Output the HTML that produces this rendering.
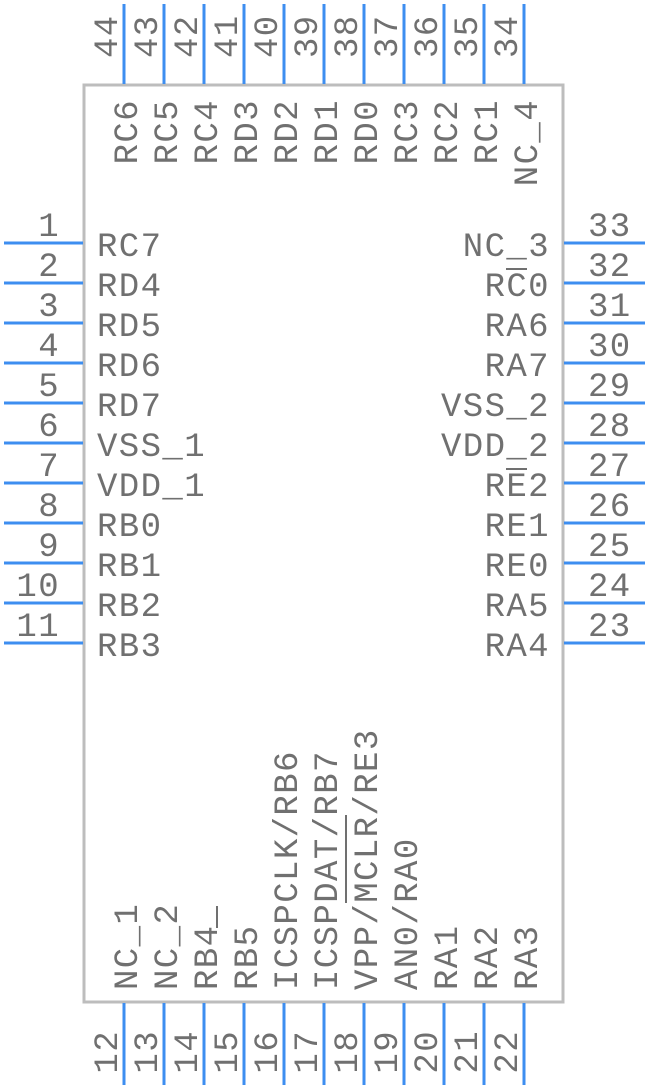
<!DOCTYPE html>
<html><head><meta charset="utf-8"><style>
html,body{margin:0;padding:0;background:#fff;}
svg{display:block}
text{font-family:"Liberation Mono",monospace;font-size:34px;fill:#707070;letter-spacing:1.4px;}
</style></head><body>
<svg width="648" height="1088" viewBox="0 0 648 1088">
<rect x="84" y="85" width="479" height="917" fill="none" stroke="#bdbdbd" stroke-width="3"/>
<g stroke="#3d8ef0" stroke-width="3">
<line x1="4" y1="243" x2="83" y2="243"/><line x1="4" y1="283" x2="83" y2="283"/><line x1="4" y1="323" x2="83" y2="323"/><line x1="4" y1="363" x2="83" y2="363"/><line x1="4" y1="403" x2="83" y2="403"/><line x1="4" y1="443" x2="83" y2="443"/><line x1="4" y1="483" x2="83" y2="483"/><line x1="4" y1="523" x2="83" y2="523"/><line x1="4" y1="563" x2="83" y2="563"/><line x1="4" y1="603" x2="83" y2="603"/><line x1="4" y1="643" x2="83" y2="643"/>
<line x1="564" y1="243" x2="645" y2="243"/><line x1="564" y1="283" x2="645" y2="283"/><line x1="564" y1="323" x2="645" y2="323"/><line x1="564" y1="363" x2="645" y2="363"/><line x1="564" y1="403" x2="645" y2="403"/><line x1="564" y1="443" x2="645" y2="443"/><line x1="564" y1="483" x2="645" y2="483"/><line x1="564" y1="523" x2="645" y2="523"/><line x1="564" y1="563" x2="645" y2="563"/><line x1="564" y1="603" x2="645" y2="603"/><line x1="564" y1="643" x2="645" y2="643"/>
<line x1="124" y1="4" x2="124" y2="84"/><line x1="164" y1="4" x2="164" y2="84"/><line x1="204" y1="4" x2="204" y2="84"/><line x1="244" y1="4" x2="244" y2="84"/><line x1="284" y1="4" x2="284" y2="84"/><line x1="324" y1="4" x2="324" y2="84"/><line x1="364" y1="4" x2="364" y2="84"/><line x1="404" y1="4" x2="404" y2="84"/><line x1="444" y1="4" x2="444" y2="84"/><line x1="484" y1="4" x2="484" y2="84"/><line x1="524" y1="4" x2="524" y2="84"/>
<line x1="124" y1="1003" x2="124" y2="1085"/><line x1="164" y1="1003" x2="164" y2="1085"/><line x1="204" y1="1003" x2="204" y2="1085"/><line x1="244" y1="1003" x2="244" y2="1085"/><line x1="284" y1="1003" x2="284" y2="1085"/><line x1="324" y1="1003" x2="324" y2="1085"/><line x1="364" y1="1003" x2="364" y2="1085"/><line x1="404" y1="1003" x2="404" y2="1085"/><line x1="444" y1="1003" x2="444" y2="1085"/><line x1="484" y1="1003" x2="484" y2="1085"/><line x1="524" y1="1003" x2="524" y2="1085"/>
</g>
<g text-anchor="end">
<text x="60" y="236">1</text><text x="60" y="276">2</text><text x="60" y="316">3</text><text x="60" y="356">4</text><text x="60" y="396">5</text><text x="60" y="436">6</text><text x="60" y="476">7</text><text x="60" y="516">8</text><text x="60" y="556">9</text><text x="60" y="596">10</text><text x="60" y="636">11</text>
</g>
<g>
<text x="97" y="256">RC7</text><text x="97" y="296">RD4</text><text x="97" y="336">RD5</text><text x="97" y="376">RD6</text><text x="97" y="416">RD7</text><text x="97" y="456">VSS_1</text><text x="97" y="496">VDD_1</text><text x="97" y="536">RB0</text><text x="97" y="576">RB1</text><text x="97" y="616">RB2</text><text x="97" y="656">RB3</text>
</g>
<g>
<text x="588" y="236">33</text><text x="588" y="276">32</text><text x="588" y="316">31</text><text x="588" y="356">30</text><text x="588" y="396">29</text><text x="588" y="436">28</text><text x="588" y="476">27</text><text x="588" y="516">26</text><text x="588" y="556">25</text><text x="588" y="596">24</text><text x="588" y="636">23</text>
</g>
<g text-anchor="end">
<text x="550" y="256">NC_3</text><text x="550" y="296">RC0</text><text x="550" y="336">RA6</text><text x="550" y="376">RA7</text><text x="550" y="416">VSS_2</text><text x="550" y="456">VDD_2</text><text x="550" y="496">RE2</text><text x="550" y="536">RE1</text><text x="550" y="576">RE0</text><text x="550" y="616">RA5</text><text x="550" y="656">RA4</text>
</g>
<g stroke="#707070" stroke-width="2">
<line x1="506" y1="269" x2="527" y2="269"/>
<line x1="506" y1="469" x2="527" y2="469"/>
<line x1="217" y1="906" x2="217" y2="928"/>
<line x1="346" y1="815" x2="346" y2="903"/>
</g>
<g text-anchor="start">
<text transform="translate(117,58) rotate(-90)">44</text><text transform="translate(157,58) rotate(-90)">43</text><text transform="translate(197,58) rotate(-90)">42</text><text transform="translate(237,58) rotate(-90)">41</text><text transform="translate(277,58) rotate(-90)">40</text><text transform="translate(317,58) rotate(-90)">39</text><text transform="translate(357,58) rotate(-90)">38</text><text transform="translate(397,58) rotate(-90)">37</text><text transform="translate(437,58) rotate(-90)">36</text><text transform="translate(477,58) rotate(-90)">35</text><text transform="translate(517,58) rotate(-90)">34</text>
</g>
<g text-anchor="end">
<text transform="translate(137,99) rotate(-90)">RC6</text><text transform="translate(177,99) rotate(-90)">RC5</text><text transform="translate(217,99) rotate(-90)">RC4</text><text transform="translate(257,99) rotate(-90)">RD3</text><text transform="translate(297,99) rotate(-90)">RD2</text><text transform="translate(337,99) rotate(-90)">RD1</text><text transform="translate(377,99) rotate(-90)">RD0</text><text transform="translate(417,99) rotate(-90)">RC3</text><text transform="translate(457,99) rotate(-90)">RC2</text><text transform="translate(497,99) rotate(-90)">RC1</text><text transform="translate(537,99) rotate(-90)">NC_4</text>
</g>
<g text-anchor="end">
<text transform="translate(117,1030) rotate(-90)">12</text><text transform="translate(157,1030) rotate(-90)">13</text><text transform="translate(197,1030) rotate(-90)">14</text><text transform="translate(237,1030) rotate(-90)">15</text><text transform="translate(277,1030) rotate(-90)">16</text><text transform="translate(317,1030) rotate(-90)">17</text><text transform="translate(357,1030) rotate(-90)">18</text><text transform="translate(397,1030) rotate(-90)">19</text><text transform="translate(437,1030) rotate(-90)">20</text><text transform="translate(477,1030) rotate(-90)">21</text><text transform="translate(517,1030) rotate(-90)">22</text>
</g>
<g text-anchor="start">
<text transform="translate(137,990) rotate(-90)">NC_1</text><text transform="translate(177,990) rotate(-90)">NC_2</text><text transform="translate(217,990) rotate(-90)">RB4</text><text transform="translate(257,990) rotate(-90)">RB5</text><text transform="translate(297,990) rotate(-90)">ICSPCLK/RB6</text><text transform="translate(337,990) rotate(-90)">ICSPDAT/RB7</text><text transform="translate(377,990) rotate(-90)">VPP/MCLR/RE3</text><text transform="translate(417,990) rotate(-90)">AN0/RA0</text><text transform="translate(457,990) rotate(-90)">RA1</text><text transform="translate(497,990) rotate(-90)">RA2</text><text transform="translate(537,990) rotate(-90)">RA3</text>
</g>
</svg>
</body></html>
